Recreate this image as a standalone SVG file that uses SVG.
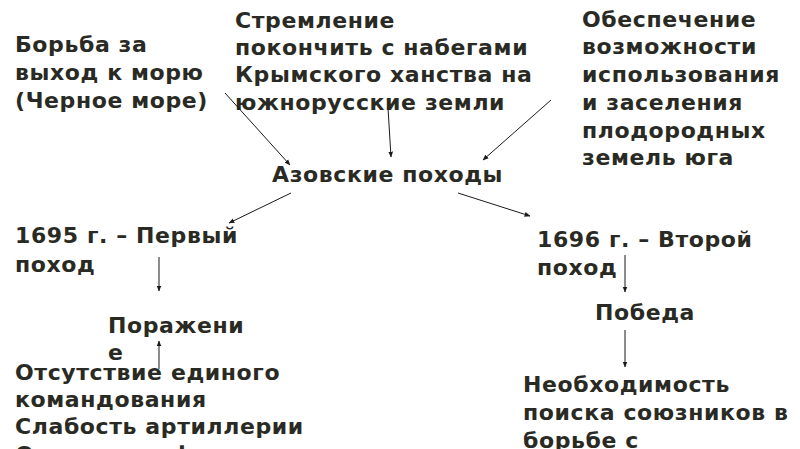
<svg xmlns="http://www.w3.org/2000/svg" width="800" height="449" viewBox="0 0 800 449">
<defs>
<style>
text{font-family:"DejaVu Sans","Liberation Sans",sans-serif;font-weight:bold;font-size:22px;letter-spacing:0.6px;fill:#2a2a24;}
.c line{stroke:#1a1a1a;stroke-width:1;marker-end:url(#ah);}
</style>
<marker id="ah" viewBox="0 0 10 10" refX="9" refY="5" markerWidth="6" markerHeight="6" markerUnits="userSpaceOnUse" orient="auto">
<path d="M0,1 L10,5 L0,9 z" fill="#1a1a1a"/>
</marker>
</defs>
<rect width="800" height="449" fill="#ffffff"/>
<g id="n1"><text x="15" y="52">Борьба за</text><text x="15" y="80">выход к морю</text><text x="15" y="108">(Черное море)</text></g>
<g id="n2"><text x="235" y="28">Стремление</text><text x="235" y="55">покончить с набегами</text><text x="235" y="82">Крымского ханства на</text><text x="235" y="110">южнорусские земли</text></g>
<g id="n3"><text x="582" y="27">Обеспечение</text><text x="582" y="54">возможности</text><text x="582" y="82">использования</text><text x="582" y="110">и заселения</text><text x="582" y="138">плодородных</text><text x="582" y="165">земель юга</text></g>
<g id="n4"><text x="272" y="182">Азовские походы</text></g>
<g id="n5"><text x="15" y="243">1695 г. – Первый</text><text x="15" y="272">поход</text></g>
<g id="n6"><text x="537" y="247">1696 г. – Второй</text><text x="537" y="275">поход</text></g>
<g id="n7"><text x="108" y="333">Поражени</text><text x="108" y="360">е</text></g>
<g id="n8"><text x="595" y="320">Победа</text></g>
<g id="n9"><text x="15" y="380">Отсутствие единого</text><text x="15" y="407">командования</text><text x="15" y="434">Слабость артиллерии</text><text x="15" y="462">Отсутствие флота</text></g>
<g id="n10"><text x="523" y="392">Необходимость</text><text x="523" y="420">поиска союзников в</text><text x="523" y="448">борьбе с</text></g>
<g id="connectors" class="c">
<line x1="225" y1="93" x2="290" y2="165"/>
<line x1="388" y1="108" x2="391" y2="157"/>
<line x1="551" y1="100" x2="483" y2="160"/>
<line x1="291" y1="193" x2="229" y2="223"/>
<line x1="458" y1="193" x2="530" y2="216"/>
<line x1="159" y1="257" x2="159" y2="291"/>
<line x1="159" y1="369" x2="159" y2="341"/>
<line x1="625" y1="255" x2="625" y2="292"/>
<line x1="625" y1="330" x2="625" y2="367"/>
</g>
</svg>
